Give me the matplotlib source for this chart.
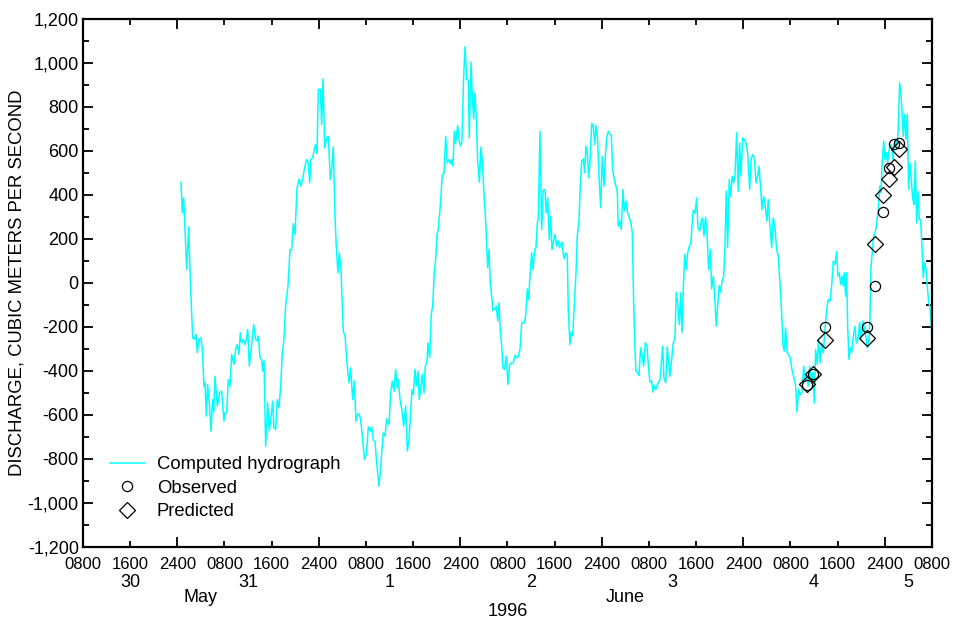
import matplotlib.pyplot as plt
from matplotlib.ticker import MultipleLocator, FuncFormatter

plt.rcParams['font.family'] = ['Liberation Sans', 'DejaVu Sans']

# time axis: hours after 0800, May 30, 1996
hours = [
    16.62, 16.84, 17.07, 17.59, 17.93, 18.20, 18.60, 18.88, 19.17, 19.39,
    19.67, 19.96, 20.24, 20.52, 20.69, 20.92, 21.14, 21.43, 21.71, 21.99,
    22.16, 22.39, 22.78, 23.18, 23.52, 23.91, 24.08, 24.37, 24.65, 24.93,
    25.22, 25.61, 25.89, 26.17, 26.46, 26.68, 26.91, 27.19, 27.48, 27.70,
    27.93, 28.21, 28.61, 28.95, 29.29, 29.57, 29.74, 30.02, 30.30, 30.47,
    30.70, 30.98, 31.32, 31.60, 31.89, 32.17, 32.39, 32.68, 32.95, 33.24,
    33.53, 33.80, 34.09, 34.38, 34.77, 35.11, 35.39, 35.67, 35.96, 36.30,
    36.69, 36.97, 37.37, 37.65, 37.94, 38.22, 38.45, 38.67, 38.95, 39.23,
    39.47, 39.69, 39.91, 40.25, 40.48, 40.71, 40.99, 41.33, 41.61, 41.95,
    42.18, 42.46, 42.74, 42.96, 43.25, 43.47, 43.76, 44.15, 44.44, 44.78,
    45.12, 45.40, 45.74, 46.02, 46.30, 46.59, 46.81, 47.10, 47.37, 47.76,
    48.11, 48.39, 48.73, 48.96, 49.24, 49.53, 49.81, 50.20, 50.54, 50.93,
    51.22, 51.51, 51.90, 52.19, 52.46, 52.75, 53.03, 53.31, 53.48, 53.77,
    54.11, 54.39, 54.73, 55.01, 55.29, 55.58, 55.80, 56.03, 56.31, 56.60,
    56.82, 57.04, 57.33, 57.55, 57.84, 58.06, 58.35, 58.51, 58.80, 59.07,
    59.31, 59.58, 59.82, 60.04, 60.26, 60.60, 60.94, 61.23, 61.52, 61.79,
    62.08, 62.30, 62.53, 62.75, 62.98, 63.21, 63.55, 63.82, 64.06, 64.28,
    64.57, 64.79, 65.08, 65.35, 65.52, 65.81, 66.03, 66.27, 66.49, 66.71,
    66.94, 67.22, 67.50, 67.72, 68.06, 68.35, 68.64, 68.86, 69.08, 69.32,
    69.54, 69.83, 70.10, 70.34, 70.56, 70.78, 71.02, 71.24, 71.52, 71.80,
    72.08, 72.37, 72.71, 72.98, 73.27, 73.56, 73.83, 74.12, 74.41, 74.85,
    75.08, 75.36, 75.59, 75.81, 76.10, 76.32, 76.61, 76.83, 77.05, 77.22,
    77.51, 77.80, 78.07, 78.36, 78.58, 78.82, 79.09, 79.33, 79.55, 79.77,
    80.05, 80.34, 80.56, 80.85, 81.24, 81.58, 81.87, 82.14, 82.31, 82.60,
    82.82, 83.06, 83.33, 83.62, 83.84, 84.13, 84.35, 84.58, 84.86, 85.09,
    85.31, 85.53, 85.77, 85.99, 86.28, 86.55, 86.79, 87.01, 87.30, 87.52,
    87.81, 88.08, 88.37, 88.65, 88.88, 89.10, 89.38, 89.61, 89.84, 90.11,
    90.40, 90.62, 90.79, 91.08, 91.30, 91.59, 91.81, 92.10, 92.38, 92.66,
    92.95, 93.17, 93.40, 93.62, 93.79, 94.08, 94.30, 94.59, 94.86, 95.10,
    95.37, 95.66, 95.95, 96.17, 96.46, 96.68, 96.90, 97.13, 97.36, 97.58,
    97.86, 98.03, 98.32, 98.54, 98.83, 99.10, 99.34, 99.56, 99.85, 100.12,
    100.41, 100.63, 100.87, 101.14, 101.37, 101.60, 101.82, 102.06, 102.33, 102.56,
    102.83, 103.07, 103.29, 103.51, 103.80, 104.09, 104.31, 104.60, 104.87, 105.11,
    105.33, 105.61, 105.84, 106.12, 106.40, 106.63, 106.91, 107.14, 107.41, 107.65,
    107.92, 108.16, 108.38, 108.67, 108.89, 109.11, 109.34, 109.62, 109.85, 110.12,
    110.36, 110.58, 110.87, 111.14, 111.38, 111.60, 111.89, 112.16, 112.45, 112.74,
    113.08, 113.35, 113.64, 113.92, 114.15, 114.43, 114.66, 114.94, 115.17, 115.45,
    115.73, 116.01, 116.23, 116.52, 116.81, 117.08, 117.37, 117.66, 117.93, 118.21,
    118.50, 118.73, 118.95, 119.18, 119.45, 119.69, 119.96, 120.25, 120.59, 120.88,
    121.10, 121.39, 121.66, 121.95, 122.24, 122.51, 122.80, 123.02, 123.25, 123.53,
    123.82, 124.04, 124.27, 124.54, 124.78, 125.05, 125.29, 125.56, 125.85, 126.14,
    126.41, 126.70, 126.98, 127.26, 127.55, 127.83, 128.05, 128.28, 128.51, 128.73,
    128.95, 129.12, 129.36, 129.53, 129.70, 129.92, 130.14, 130.38, 130.65, 130.94,
    131.16, 131.45, 131.74, 132.01, 132.30, 132.58, 132.86, 133.09, 133.31, 133.48,
    133.65, 133.87, 134.11, 134.33, 134.62, 134.89, 135.13, 135.35, 135.57, 135.81,
    136.03, 136.25, 136.48, 136.70, 136.92, 137.16, 137.38, 137.60, 137.84, 138.06,
    138.28, 138.52, 138.74, 138.91, 139.13, 139.37, 139.59, 139.81, 140.05, 140.27,
    140.49, 140.73, 140.95, 141.17, 141.40, 141.63, 141.85, 142.07, 142.30, 142.52,
    142.76, 142.98, 143.20, 143.44, 143.66, 143.94, 144.00,
]
discharge = [
    458, 319, 387, 61, 255, 16, -249, -256, -234, -317,
    -256, -249, -295, -469, -454, -605, -462, -545, -673, -530,
    -583, -424, -560, -500, -492, -628, -590, -590, -439, -469,
    -325, -370, -302, -280, -325, -226, -272, -256, -280, -256,
    -211, -378, -280, -189, -256, -264, -241, -340, -348, -401,
    -351, -742, -545, -673, -613, -537, -658, -666, -530, -568,
    -469, -317, -256, -98, -14, 152, 152, 270, 220, 433,
    473, 440, 490, 531, 561, 546, 455, 564, 568, 607,
    629, 589, 880, 880, 720, 928, 614, 660, 667, 470,
    516, 618, 304, 167, 46, 137, 61, -219, -241, -363,
    -454, -386, -530, -446, -628, -598, -594, -620, -696, -802,
    -772, -654, -673, -654, -714, -719, -817, -924, -817, -681,
    -696, -617, -643, -499, -446, -492, -393, -477, -439, -530,
    -583, -651, -560, -764, -711, -590, -484, -507, -393, -469,
    -401, -530, -469, -416, -500, -378, -355, -272, -340, -143,
    -105, 46, 107, 220, 243, 349, 493, 497, 667, 546,
    561, 543, 561, 531, 690, 634, 716, 645, 622, 645,
    940, 1074, 925, 922, 660, 1004, 849, 746, 864, 743,
    561, 458, 618, 561, 380, 258, 69, 152, 1, -60,
    -125, -120, -105, -173, -90, -219, -287, -385, -393, -333,
    -461, -370, -363, -363, -328, -340, -333, -302, -181, -181,
    -150, -27, -75, 31, 137, 61, 152, 160, 273, 288,
    689, 243, 422, 425, 319, 387, 195, 304, 152, 183,
    220, 167, 193, 160, 186, 110, 137, 130, -120, -280,
    -223, -241, -98, 46, 213, 288, 440, 554, 564, 501,
    622, 599, 478, 546, 725, 716, 629, 716, 652, 485,
    342, 576, 440, 599, 667, 690, 675, 675, 513, 470,
    440, 417, 258, 281, 243, 425, 326, 372, 319, 296,
    273, 228, -90, -302, -401, -408, -421, -295, -333, -378,
    -272, -284, -393, -451, -446, -496, -466, -484, -466, -454,
    -439, -386, -287, -431, -454, -290, -363, -424, -348, -272,
    -249, -42, -90, -189, -45, -226, -22, 130, 61, 137,
    167, 175, 251, 331, 316, 387, 251, 236, 281, 296,
    213, 299, 228, 61, 152, -27, 31, -60, -196, -105,
    -11, -42, 4, 31, 167, 417, 160, 470, 394, 485,
    455, 485, 683, 417, 637, 485, 660, 652, 637, 592,
    425, 568, 584, 561, 455, 485, 531, 432, 334, 394,
    349, 281, 379, 258, 160, 296, 251, 152, 122, 1,
    -135, -280, -310, -204, -317, -325, -340, -393, -431, -469,
    -587, -484, -507, -499, -378, -446, -424, -469, -378, -439,
    -408, -545, -302, -370, -256, -363, -272, -317, -211, -120,
    -75, -83, -14, 99, 84, 142, 31, 46, -7, 31,
    -14, 46, -60, 46, -196, -348, -295, -317, -241, -196,
    -272, -256, -181, -256, -173, -211, -256, -295, -256, -166,
    69, 137, 213, 228, 266, 334, 440, 410, 554, 645,
    561, 592, 546, 599, 629, 622, 561, 629, 652, 622,
    698, 910, 857, 789, 667, 766, 652, 766, 425, 546,
    470, 387, 357, 554, 273, 417, 288, 288, 167, 24,
    92, 61, -14, -90, -105, -211, -350,
]

# measurement times (hours after 0800, May 30) and values
point_hours = [122.74, 123.87, 125.85, 133.06, 134.28, 135.69, 136.65, 137.55, 138.40]
observed = [-463, -413, -202, -202, -13, 323, 522, 630, 638]
predicted = [-460, -413, -257, -248, 176, 398, 474, 528, 610]

day_labels = ['30', '31', '1', '2', '3', '4', '5']
day_hours = [8, 28, 52, 76, 100, 124, 140]
month_labels = ['May', 'June']
month_hours = [20, 92]

fig = plt.figure(figsize=(9.54, 6.18), dpi=100)
ax = fig.add_axes([0.087, 0.1149, 0.8899, 0.8544])

ax.plot(hours, discharge, color='#00ffff', lw=1.1, label='Computed hydrograph')
ax.plot(point_hours, observed, ls='none', marker='o', ms=7.3, mfc='none',
        mec='black', mew=0.9, label='Observed')
ax.plot(point_hours, predicted, ls='none', marker='D', ms=8.5, mfc='none',
        mec='black', mew=0.9, label='Predicted')

ax.set_xlim(0, 144)
ax.set_ylim(-1200, 1200)

# 2400 ticks long, 0800 / 1600 ticks short
midnights = list(range(16, 144, 24))
others = [h for h in range(0, 145, 8) if h not in midnights]
ax.set_xticks(midnights)
ax.set_xticklabels(['2400'] * len(midnights))
ax.set_xticks(others, minor=True)
ax.set_xticklabels(['0800' if h % 24 == 0 else '1600' for h in others], minor=True)

ax.yaxis.set_major_locator(MultipleLocator(200))
ax.yaxis.set_minor_locator(MultipleLocator(100))
ax.yaxis.set_major_formatter(FuncFormatter(lambda v, p: f'{int(v):,}'))

ax.tick_params(which='both', direction='in', top=True, right=True,
               width=1.3, colors='black')
ax.tick_params(which='major', length=7)
ax.tick_params(which='minor', length=4)
ax.tick_params(axis='x', which='both', pad=7, labelsize=12)
ax.tick_params(axis='y', which='both', pad=3, labelsize=13)

for s in ax.spines.values():
    s.set_linewidth(1.6)

tr = ax.get_xaxis_transform()
for lab, h in zip(day_labels, day_hours):
    ax.text(h, -0.068, lab, transform=tr, ha='center', va='center', fontsize=13)
for lab, h in zip(month_labels, month_hours):
    ax.text(h, -0.096, lab, transform=tr, ha='center', va='center', fontsize=13)
ax.text(72, -0.122, '1996', transform=tr, ha='center', va='center', fontsize=13)

ax.set_ylabel('DISCHARGE, CUBIC METERS PER SECOND', fontsize=13.3)
ax.yaxis.set_label_coords(-0.068, 0.5)

ax.legend(loc='upper left', bbox_to_anchor=(0.012, 0.203), frameon=False,
          fontsize=13.3, handlelength=1.9, handletextpad=0.65, labelspacing=0.35)

fig.savefig('out.png', dpi=100)
